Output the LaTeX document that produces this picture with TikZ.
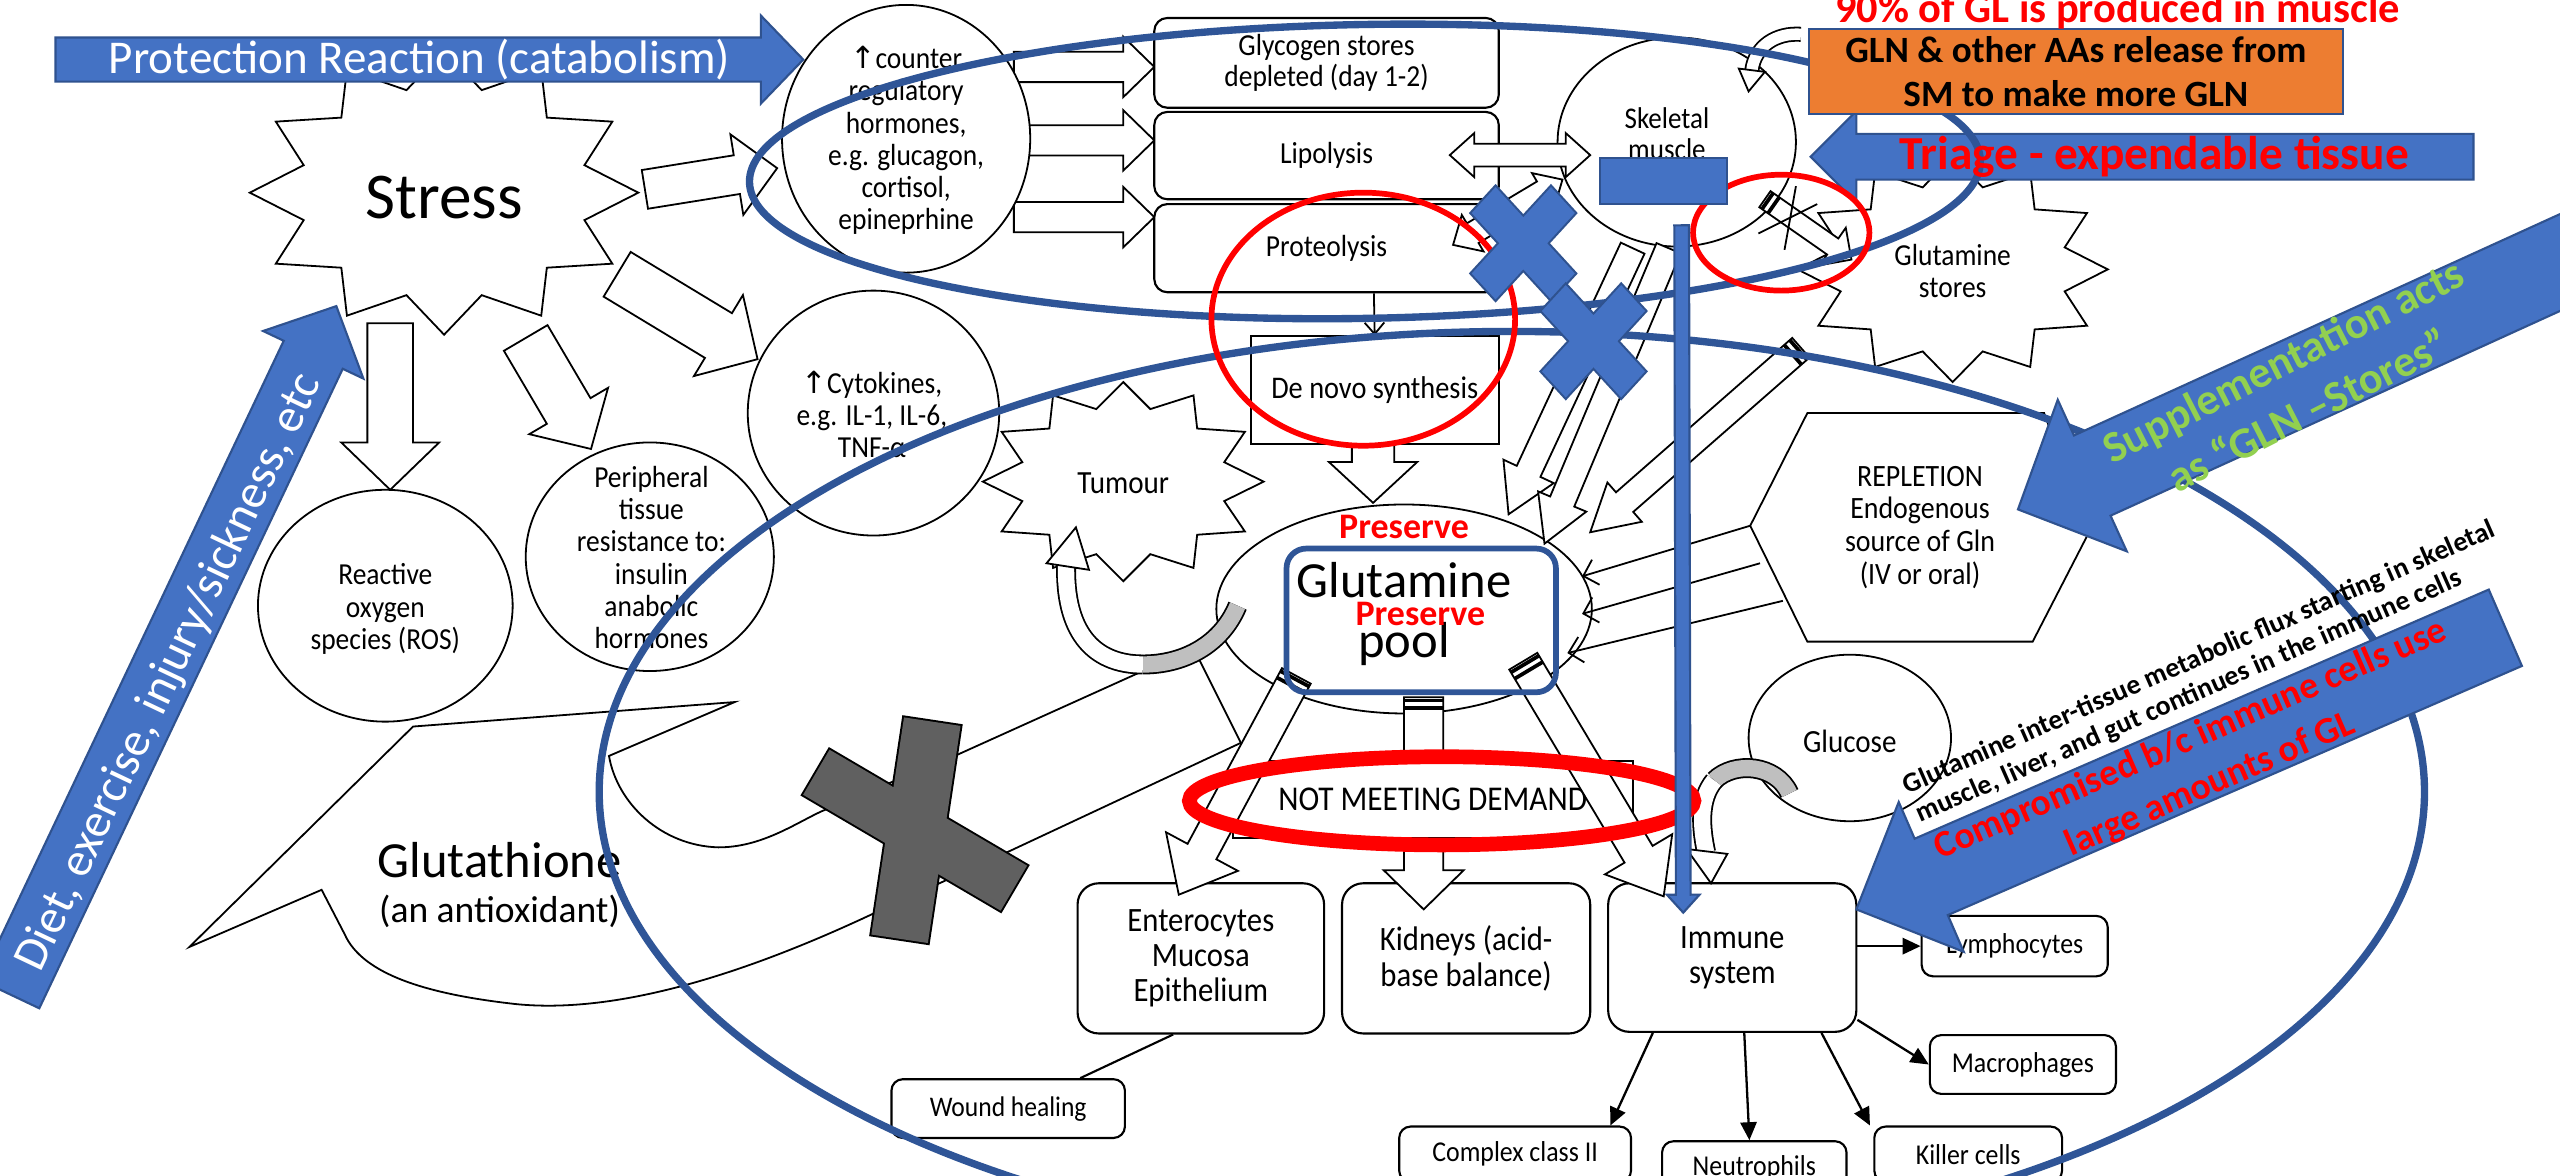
\documentclass[tikz,border=0pt]{standalone}
\usepackage{fontspec}
\setmainfont{Carlito}
\newfontfamily\dgm{Carlito}[FakeStretch=0.9]
\newfontfamily\symfont{DejaVu Sans}
\usetikzlibrary{calc,arrows.meta}

\definecolor{bfill}{HTML}{4472C4}
\definecolor{bline}{HTML}{2F528F}
\definecolor{dblue}{HTML}{2F5597}
\definecolor{orng}{HTML}{ED7D31}
\definecolor{lgreen}{HTML}{92D050}
\definecolor{xgray}{HTML}{606060}
\definecolor{bandgray}{HTML}{BFBFBF}
\definecolor{alarm}{HTML}{FF0000}

\newcommand\fsz[2]{\fontsize{#1}{#2}\selectfont}
\newcommand\uparr{{\symfont ↑}}

% straight block arrow: [style]{tail}{tip}{body half-width}{head half-width}{head length}
\newcommand\blockarrow[6][]{%
  \path ($(#3)!#6pt!(#2)$) coordinate (ba-h);
  \draw[#1] ($(#2)!#4pt!90:(#3)$) -- ($(ba-h)!#4pt!90:(#3)$) -- ($(ba-h)!#5pt!90:(#3)$) -- (#3)
    -- ($(ba-h)!#5pt!-90:(#3)$) -- ($(ba-h)!#4pt!-90:(#3)$) -- ($(#2)!#4pt!-90:(#3)$) -- cycle;}

% two-headed block arrow: [style]{end one}{end two}{body half-width}{head half-width}{head length}
\newcommand\doublearrow[6][]{%
  \path ($(#2)!#6pt!(#3)$) coordinate (da-a) ($(#3)!#6pt!(#2)$) coordinate (da-b);
  \draw[#1] (#2) -- ($(da-a)!#5pt!90:(#3)$) -- ($(da-a)!#4pt!90:(#3)$) -- ($(da-b)!#4pt!-90:(#2)$)
    -- ($(da-b)!#5pt!-90:(#2)$) -- (#3) -- ($(da-b)!#5pt!90:(#2)$) -- ($(da-b)!#4pt!90:(#2)$)
    -- ($(da-a)!#4pt!-90:(#3)$) -- ($(da-a)!#5pt!-90:(#3)$) -- cycle;}

% the two short heavy bars across the tail of an arrow
\newcommand\tailbars[3]{%
  \path ($(#1)!2pt!(#2)$) coordinate (tb-a) ($(#1)!6.5pt!(#2)$) coordinate (tb-b);
  \draw[line width=2.3pt] ($(tb-a)!#3pt!90:(#2)$) -- ($(tb-a)!#3pt!-90:(#2)$)
    ($(tb-b)!#3pt!90:(#2)$) -- ($(tb-b)!#3pt!-90:(#2)$);}

% rectangle of given half-width around a segment
\newcommand\barpoly[3]{($(#1)!#3pt!90:(#2)$) -- ($(#2)!#3pt!-90:(#1)$) -- ($(#2)!#3pt!90:(#1)$) -- ($(#1)!#3pt!-90:(#2)$) -- cycle}

% twelve-point star: cx cy rx ry inner-rx inner-ry
\newcommand\starpath[6]{plot[samples at={0,...,23}]
  ({#1+ifthenelse(mod(\x,2)==0,#3,#5)*cos(\x*15)},{#2-ifthenelse(mod(\x,2)==0,#4,#6)*sin(\x*15)}) -- cycle}

% blue multiply sign
\newcommand\bluex[4]{%
  \begin{scope}[shift={(#1,#2)},yscale=#3,rotate=45]
    \draw[fill=bfill,draw=bline,line width=1.2pt] (-#4,-35) -- (#4,-35) -- (#4,-#4) -- (35,-#4) -- (35,#4)
      -- (#4,#4) -- (#4,35) -- (-#4,35) -- (-#4,#4) -- (-35,#4) -- (-35,-#4) -- (-#4,-#4) -- cycle;
  \end{scope}}

\begin{document}
\begin{tikzpicture}[x=1pt,y=-1pt,
  hollow/.style={draw=black,fill=white,line width=1.1pt,line join=miter},
  bluearr/.style={fill=bfill,draw=bline,line width=1.3pt,line join=miter},
  rbox/.style={draw,fill=white,line width=1.3pt,rounded corners=13pt,align=center,inner sep=0pt,font=\dgm\fsz{20.9}{21.5}},
  sbox/.style={draw,fill=white,line width=1.3pt,rounded corners=7pt,align=center,inner sep=0pt,font=\dgm\fsz{17.6}{19}},
  txt/.style={align=center,inner sep=0pt,font=\dgm\fsz{18.7}{19.7}},
  thinarr/.style={line width=1.1pt,-{Straight Barb[length=8pt,width=16pt,line width=1.1pt]}},
  cellarr/.style={line width=1.4pt,-{Triangle[length=11pt,width=10pt]}},
  loopband/.style={line width=1.1pt,double distance=10pt},
]
\useasboundingbox (0,0) rectangle (1568,720);
\fill[white] (0,0) rectangle (1568,720);

% ---------------- stress and its outputs
\coordinate (s2h-t) at (395,116); \coordinate (s2h-p) at (476,103);
\coordinate (s2c-t) at (378,168); \coordinate (s2c-p) at (464,220);
\coordinate (s2p-t) at (322,207); \coordinate (s2p-p) at (362,275);
\coordinate (s2r-t) at (239,198); \coordinate (s2r-p) at (239,300);
\blockarrow[hollow]{s2h-t}{s2h-p}{12}{25}{25}
\blockarrow[hollow]{s2c-t}{s2c-p}{16}{29}{28}
\blockarrow[hollow]{s2p-t}{s2p-p}{15.5}{28}{27}
\blockarrow[hollow]{s2r-t}{s2r-p}{14}{30}{29}
\draw[hollow] \starpath{272}{118}{119}{87}{89}{65};
\node[font=\fsz{40}{44}] (stress) at (272,121) {Stress};

% ---------------- glutathione call-out
\draw[hollow] (731,397) -- (760,455) -- (619,521) -- (534,560)
  .. controls (470,590) and (385,622) .. (316,615)
  .. controls (262,609) and (222,597) .. (211,572) -- (197,545) -- (116,580)
  -- (253,445) -- (450,430) -- (373,463)
  .. controls (378,492) and (405,518) .. (440,519)
  .. controls (466,519) and (486,505) .. (503,497) -- (587,462) -- cycle;
\node[font=\fsz{31}{34}] (gsh) at (306,527) {Glutathione};
\node[font=\fsz{23}{26}] (gshnote) at (306,558) {(an antioxidant)};

% ---------------- ROS, peripheral resistance, cytokines
\draw[hollow] (236,371) ellipse [x radius=78,y radius=71];
\node[txt] (ros) at (236,373) {Reactive\\oxygen\\species (ROS)};
\draw[hollow] (398,341) ellipse [x radius=76,y radius=70];
\node[txt] (periph) at (399,341.5) {Peripheral\\tissue\\resistance to:\\insulin\\anabolic\\hormones};
\draw[hollow] (535,253) ellipse [x radius=77,y radius=75];
\node[txt] (cyto) at (534,254) {\uparr Cytokines,\\e.g. IL-1, IL-6,\\TNF-α};

% ---------------- hormones and the three catabolic routes
\foreach \yy/\nm in {41/hg,86/hl,133/hp}{
  \coordinate (\nm-t) at (621,\yy); \coordinate (\nm-p) at (707,\yy);
  \blockarrow[hollow]{\nm-t}{\nm-p}{9.3}{18.5}{19}}
\draw[hollow] (555,85) ellipse [x radius=76,y radius=82];
\node[txt] (hormone) at (555,86) {\uparr counter\\regulatory\\hormones,\\e.g. glucagon,\\cortisol,\\epineprhine};
\node[rbox,rounded corners=8pt,font=\dgm\fsz{18.7}{19},minimum width=211,minimum height=55] (glyco) at (812.5,38.5) {Glycogen stores\\depleted (day 1-2)};
\node[rbox,rounded corners=8pt,font=\dgm\fsz{18.7}{19},minimum width=211,minimum height=53.5] (lipo) at (812.5,95.3) {Lipolysis};
\node[rbox,rounded corners=8pt,font=\dgm\fsz{18.7}{19},minimum width=211,minimum height=54] (prot) at (812.5,152) {Proteolysis};
\node[draw,fill=white,line width=1.1pt,minimum width=152,minimum height=66,inner sep=0pt,font=\dgm\fsz{19.3}{20}] (denovo) at (842,239) {De novo synthesis};
\draw[line width=1.1pt,-{Straight Barb[length=7pt,width=12pt,line width=1.1pt]}] ([xshift=29pt]prot.south) -- (denovo.north);

% ---------------- tumour, glutamine pool
\coordinate (d2p-t) at (841,272); \coordinate (d2p-p) at (841,308);
\blockarrow[hollow]{d2p-t}{d2p-p}{13}{27}{25}
\draw[hollow] \starpath{688}{295}{86}{61}{64}{46};
\node[font=\dgm\fsz{19.8}{20}] (tumour) at (688,296) {Tumour};
\draw[hollow] (860,373) ellipse [x radius=115,y radius=64];
\draw[loopband,double=bandgray] (758,371) .. controls (748,395) and (725,407) .. (700,407);
\draw[loopband,double=white] (700,407) .. controls (668,407) and (652,385) .. (653,346);
\draw[hollow] (641,345) -- (659,323) -- (667,349) -- cycle;
\node[align=center,inner sep=0pt,font=\fsz{31}{37}] (pool) at (860,376) {Glutamine\\pool};

% ---------------- consumers of the pool
\node[rbox,minimum width=151,minimum height=92] (entero) at (735.5,587) {Enterocytes\\Mucosa\\Epithelium};
\node[rbox,minimum width=152,minimum height=92] (kidney) at (898,587) {Kidneys (acid-\\base balance)};
\node[rbox,minimum width=152,minimum height=91] (immune) at (1061,586.5) {Immune\\system};
\coordinate (p2k-t) at (872,427); \coordinate (p2k-p) at (872,557);
\blockarrow[hollow]{p2k-t}{p2k-p}{12}{24.5}{24}
\tailbars{p2k-t}{p2k-p}{12}
\node[draw,fill=white,line width=1.3pt,minimum width=245,minimum height=47,inner sep=0pt,font=\dgm\fsz{21.3}{22}] (notmeet) at (877.5,489.5) {NOT MEETING DEMAND};
\coordinate (p2e-t) at (794,414); \coordinate (p2e-p) at (722,548);
\blockarrow[hollow]{p2e-t}{p2e-p}{10}{25}{30}
\tailbars{p2e-t}{p2e-p}{10}
\coordinate (p2i-t) at (933,405); \coordinate (p2i-p) at (1019,549);
\blockarrow[hollow]{p2i-t}{p2i-p}{10}{24}{30}
\tailbars{p2i-t}{p2i-p}{10}
\node[sbox,minimum width=143,minimum height=36,font=\dgm\fsz{17.4}{18}] (wound) at (617.5,679) {Wound healing};
\draw[line width=1.3pt] ([xshift=-17pt]entero.south) -- ([xshift=-28pt]wound.north east);
\node[sbox,minimum width=114,minimum height=37] (lymph) at (1234,579.5) {Lymphocytes};
\node[sbox,minimum width=114,minimum height=36] (macro) at (1239,652) {Macrophages};
\node[sbox,minimum width=142,minimum height=34] (complex) at (928,707) {Complex class II};
\node[sbox,minimum width=113,minimum height=32] (neutro) at (1074.5,715) {Neutrophils};
\node[sbox,minimum width=115,minimum height=34] (killer) at (1205.5,707) {Killer cells};
\draw[cellarr] (immune.east |- lymph.west) -- (lymph.west);
\draw[cellarr] ([yshift=8pt]immune.south east) -- (macro.west);
\draw[cellarr] ([xshift=28pt]immune.south west) -- ([xshift=130pt]complex.north west);
\draw[cellarr] ([xshift=84pt]immune.south west) -- ([xshift=-3pt]neutro.north);
\draw[cellarr] ([xshift=-22pt]immune.south east) -- ([xshift=-2pt]killer.north west);

% ---------------- skeletal muscle and glutamine stores
\draw[hollow] (1027,87) ellipse [x radius=73,y radius=64];
\node[txt,font=\dgm\fsz{18.4}{19}] (muscle) at (1021,82) {Skeletal\\muscle};
\draw[loopband,double=white,double distance=7pt] (1103,21) .. controls (1088,20) and (1075,28) .. (1073,43);
\draw[hollow] (1065,42) -- (1071,56) -- (1081,44) -- cycle;
\coordinate (lm-a) at (888,95); \coordinate (lm-b) at (974,95);
\doublearrow[hollow]{lm-a}{lm-b}{7}{13.5}{15}
\coordinate (pm-a) at (890,150); \coordinate (pm-b) at (957,110);
\doublearrow[hollow]{pm-a}{pm-b}{7}{13}{14}
\draw[hollow] \starpath{1196}{165}{95}{69}{71}{52};
\node[txt] (stores) at (1196,166) {Glutamine\\stores};
\coordinate (m2s-t) at (1081,122); \coordinate (m2s-p) at (1134,159);
\blockarrow[hollow]{m2s-t}{m2s-p}{6}{14}{14}
\tailbars{m2s-t}{m2s-p}{6}
\draw[line width=1.1pt] (1077,143) -- (1113,125) (1100,114) -- (1093,153);
\coordinate (ma-t) at (1000,152); \coordinate (ma-p) at (924,315);
\blockarrow[hollow]{ma-t}{ma-p}{8}{17}{29}
\coordinate (mb-t) at (1022,152); \coordinate (mb-p) at (946,333);
\blockarrow[hollow]{mb-t}{mb-p}{8}{16}{28}
\coordinate (sc-t) at (1103,213); \coordinate (sc-p) at (974,326);
\blockarrow[hollow]{sc-t}{sc-p}{8}{16}{28}
\tailbars{sc-t}{sc-p}{8}

% ---------------- repletion, glucose
\draw[hollow] (1107,253) -- (1252,253) -- (1279,327) -- (1245,393) -- (1107,393) -- (1072,322) -- cycle;
\node[txt,font=\dgm\fsz{19}{20}] (repl) at (1176,323) {REPLETION\\Endogenous\\source of Gln\\(IV or oral)};
\coordinate (r1) at (1072,322); \coordinate (q1) at (969,353);
\coordinate (r2) at (1078,345); \coordinate (q2) at (969,376);
\coordinate (r3) at (1092,368); \coordinate (q3) at (960,400);
\draw[thinarr] (r1) -- (q1);
\draw[thinarr] (r2) -- (q2);
\draw[thinarr] (r3) -- (q3);
\draw[hollow] (1133,452) ellipse [x radius=62,y radius=51];
\node[font=\dgm\fsz{19.8}{20}] (glucose) at (1133,454) {Glucose};
\draw[loopband,double=bandgray] (1096,486) .. controls (1088,468) and (1062,466) .. (1050,478);
\draw[loopband,double=white] (1050,478) .. controls (1040,490) and (1042,508) .. (1045,522);
\draw[hollow] (1033,520) -- (1048,541) -- (1058,523) -- cycle;

% ================= overlays
\draw[dblue,line width=4.5pt] (926,485) ellipse [x radius=559,y radius=282];
\coordinate (tri-t) at (1515,96); \coordinate (tri-p) at (1109,96);
\blockarrow[bluearr]{tri-t}{tri-p}{14}{28}{28}
\draw[dblue,line width=4.5pt,rotate around={1:(836,105)}] (836,105) ellipse [x radius=377,y radius=90];
\node[draw=bline,line width=1.2pt,fill=orng,minimum width=327,minimum height=52,inner sep=0pt,align=center,font=\bfseries\fsz{22.7}{27}] (glnrel) at (1271.5,44) {GLN \& other AAs release from\\SM to make more GLN};
\node[text=alarm,font=\bfseries\fsz{26}{30},anchor=base] (gl90) at (1297,13.5) {90\% of GL is produced in muscle};

\draw[alarm,line width=3.5pt] (835,195.5) ellipse [x radius=93,y radius=77.5];
\draw[alarm,line width=3.5pt] (1091,142.5) ellipse [x radius=54,y radius=35.5];
\draw[alarm,line width=9pt] (883,490.5) ellipse [x radius=154.5,y radius=27];
\draw[dblue,line width=3.5pt,rounded corners=12pt] (788,336) rectangle (953,424);

\draw[fill=bfill,draw=bline,line width=1.2pt] (980,97) rectangle (1058,125);
\coordinate (bl-t) at (1030,138); \coordinate (bl-p) at (1031,559);
\blockarrow[bluearr]{bl-t}{bl-p}{4.5}{10}{11}
\bluex{933}{149}{1.09}{11}
\bluex{976}{209}{1.09}{11}

\draw[line width=2.4pt] \barpoly{571,442}{551,575}{17.5} \barpoly{500,473}{621,544}{16};
\fill[xgray] \barpoly{571,442}{551,575}{17.5} \barpoly{500,473}{621,544}{16};

\coordinate (pr-t) at (34,36.5); \coordinate (pr-p) at (492,36.5);
\blockarrow[bluearr]{pr-t}{pr-p}{13.5}{27}{26}
\coordinate (di-t) at (6,609); \coordinate (di-p) at (206,187.5);
\blockarrow[bluearr]{di-t}{di-p}{20}{34}{33}
\coordinate (su-t) at (1640,128); \coordinate (su-p) at (1236,312);
\blockarrow[bluearr]{su-t}{su-p}{27}{51}{50}
\coordinate (co-t) at (1534.5,384.5); \coordinate (co-p) at (1137,557);
\blockarrow[bluearr]{co-t}{co-p}{25.5}{50}{50}

\node[text=white,font=\fsz{28.8}{32}] (protlbl) at (257,36.5) {Protection Reaction (catabolism)};
\node[text=white,font=\fsz{29.5}{32},rotate=64.6] (dietlbl) at (104,412) {Diet, exercise, injury/sickness, etc};
\node[text=alarm,font=\bfseries\fsz{29}{33}] (triagelbl) at (1319.5,96) {Triage - expendable tissue};
\node[text=lgreen,font=\bfseries\fsz{27}{34},rotate=27,align=center] (supplbl) at (1406,236) {Supplementation acts\\as “GLN –Stores”};
\node[text=alarm,font=\bfseries\fsz{23}{30},rotate=23.5,align=center] (complbl) at (1348,467) {Compromised b/c immune cells use\\large amounts of GL};
\node[font=\bfseries\fsz{17}{19},rotate=23.7,align=left] (flux) at (1351,412) {Glutamine inter-tissue metabolic flux starting in skeletal\\muscle, liver, and gut continues in the immune cells};
\node[text=alarm,font=\bfseries\fsz{22}{24}] (pres1) at (860,323) {Preserve};
\node[text=alarm,font=\bfseries\fsz{22}{24}] (pres2) at (870,376) {Preserve};
\end{tikzpicture}
\end{document}
